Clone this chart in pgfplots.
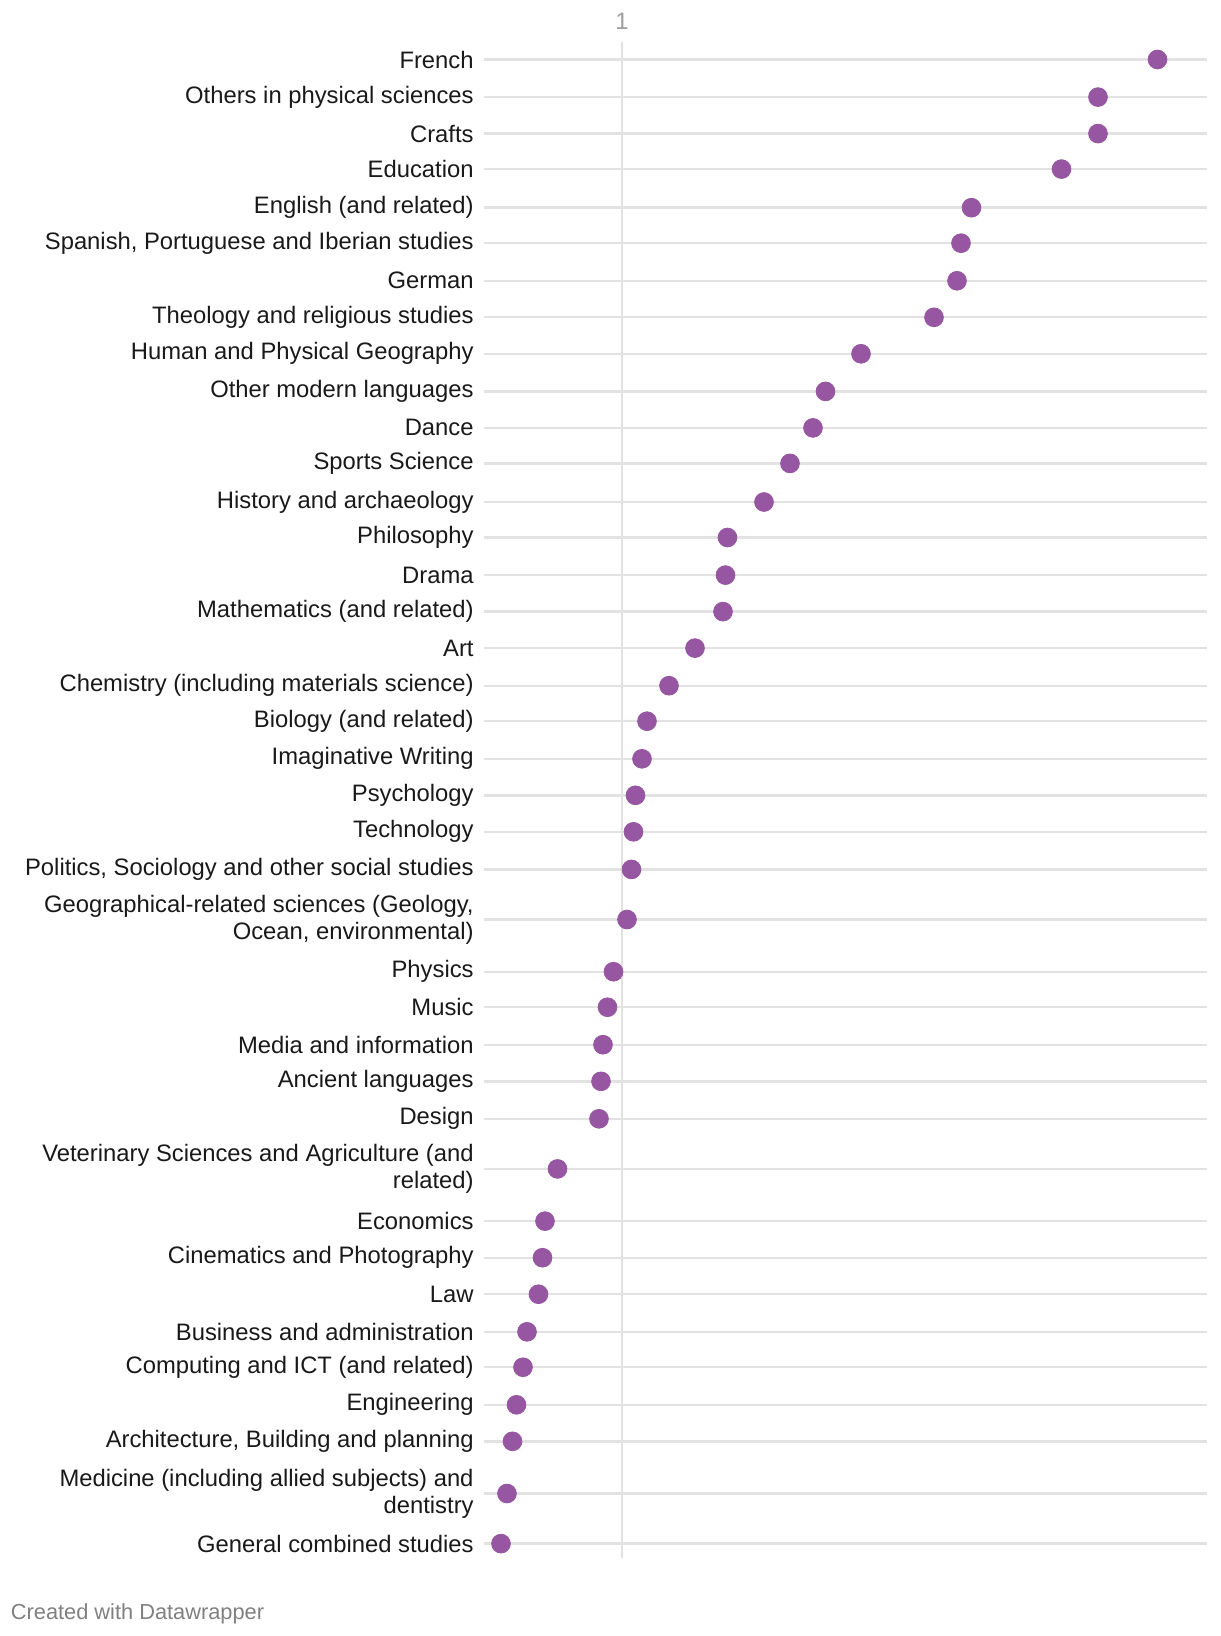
\documentclass[border=0pt]{standalone}
\usepackage{fontspec}
\setmainfont{Liberation Sans}
\usepackage{pgfplots}
\pgfplotsset{compat=1.18}
\definecolor{dot}{RGB}{150,86,161}
\definecolor{gridc}{RGB}{226,226,226}
\begin{document}
\begin{tikzpicture}
\begin{axis}[
  scale only axis,
  width=361.5pt, height=818pt,
  xmin=0.724, xmax=2.17,
  ymin=0, ymax=1636, y dir=reverse,
  clip=false,
  axis line style={draw=none},
  xtick=\empty,
  major tick length=0pt,
  ytick={59.5,97.1,133.6,169.1,207.7,243.2,280.8,317.3,353.8,391.4,427.9,463.4,502.0,537.5,575.1,611.6,648.1,685.7,721.2,758.8,795.3,831.8,869.4,919.5,971.7,1007.2,1044.7,1081.3,1118.8,1168.9,1221.1,1257.7,1294.2,1331.8,1367.2,1404.8,1441.3,1493.5,1543.6},
  yticklabels={French,Others in physical sciences,Crafts,Education,English (and related),{Spanish, Portuguese and Iberian studies},German,Theology and religious studies,Human and Physical Geography,Other modern languages,Dance,Sports Science,History and archaeology,Philosophy,Drama,Mathematics (and related),Art,Chemistry (including materials science),Biology (and related),Imaginative Writing,Psychology,Technology,{Politics, Sociology and other social studies},{Geographical-related sciences (Geology,\\Ocean, environmental)},Physics,Music,Media and information,Ancient languages,Design,{Veterinary Sciences and Agriculture (and\\related)},Economics,Cinematics and Photography,Law,Business and administration,Computing and ICT (and related),Engineering,{Architecture, Building and planning},{Medicine (including allied subjects) and\\dentistry},General combined studies},
  yticklabel style={font=\fontsize{11.9}{13.5}\selectfont, text=black!90, align=right, inner sep=0pt, xshift=-5pt},
  ymajorgrids,
  grid style={color=gridc, line width=1.2pt},
]
\addplot[color=gridc, line width=1.2pt] coordinates {(1,42) (1,1558)};
\addplot[only marks, mark=*, mark size=4.7pt, color=dot, mark options={fill=dot, draw=dot}] coordinates {
(2.071,59.5) (1.952,97.1) (1.952,133.6) (1.879,169.1) (1.699,207.7) (1.678,243.2) (1.670,280.8) (1.624,317.3) (1.478,353.8) (1.407,391.4) (1.382,427.9) (1.336,463.4) (1.284,502.0) (1.211,537.5) (1.207,575.1) (1.202,611.6) (1.146,648.1) (1.094,685.7) (1.050,721.2) (1.040,758.8) (1.027,795.3) (1.023,831.8) (1.019,869.4) (1.010,919.5) (0.983,971.7) (0.971,1007.2) (0.962,1044.7) (0.958,1081.3) (0.954,1118.8) (0.871,1168.9) (0.846,1221.1) (0.841,1257.7) (0.833,1294.2) (0.810,1331.8) (0.802,1367.2) (0.789,1404.8) (0.781,1441.3) (0.770,1493.5) (0.758,1543.6)};
\node[font=\fontsize{11.9}{13.5}\selectfont, text=black!38] at (axis cs:1,21) {1};
\node[anchor=base west, inner sep=0pt, font=\fontsize{10.9}{13}\selectfont, text=black!50] at (axis cs:-0.223,1619) {Created with Datawrapper};
\path (axis cs:-0.244,0) rectangle (axis cs:2.196,1636);
\end{axis}
\end{tikzpicture}
\end{document}
